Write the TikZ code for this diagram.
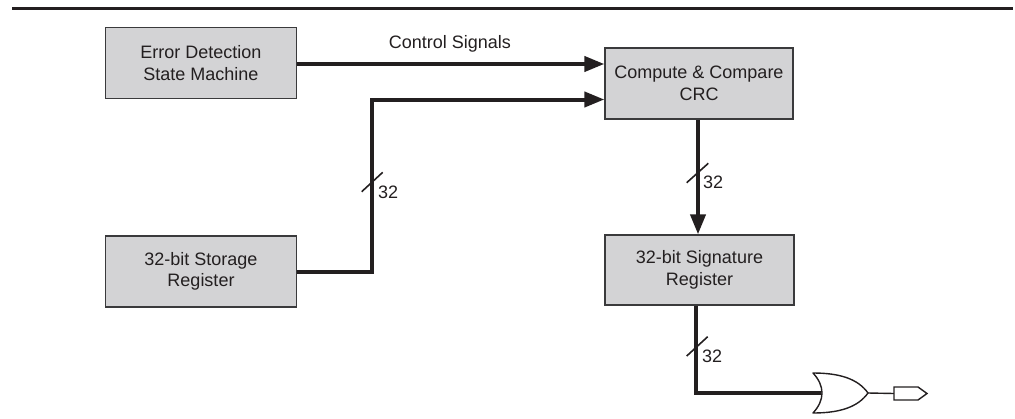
\documentclass[tikz,border=0pt]{standalone}
\usepackage{fontspec}
\setmainfont{Liberation Sans}
\usetikzlibrary{arrows.meta}
\definecolor{ink}{HTML}{231F20}
\definecolor{boxfill}{HTML}{D3D3D5}
\definecolor{boxline}{HTML}{3A3A3C}
\tikzset{
  blockbox/.style={draw=boxline, line width=1.3pt, fill=boxfill, minimum height=71pt,
    align=center, inner sep=0pt, text=ink, font=\fontsize{18}{21.6}\selectfont},
  bus/.style={draw=ink, line width=4pt},
  busarrow/.style={bus, -{Triangle[length=20pt,width=15pt]}},
  slashmark/.style={draw=ink, line width=1.6pt},
  buslabel/.style={text=ink, font=\fontsize{18}{21.6}\selectfont, inner sep=0pt, anchor=base west},
  thin/.style={draw=ink, line width=1.4pt}
}
\begin{document}
\begin{tikzpicture}[x=1pt,y=-1pt]
\useasboundingbox (0,0) rectangle (1015,418);
% top rule
\draw[ink, line width=2.6pt] (12,8.5) -- (1013,8.5);

% blocks
\node[blockbox, minimum width=191pt] (ed) at (201,63) {Error Detection\\State Machine};
\node[blockbox, minimum width=191pt] (st) at (201,271.5) {32-bit Storage\\Register};
\node[blockbox, minimum width=188pt] (cc) at (699,83.5) {Compute \& Compare\\CRC};
\node[blockbox, minimum width=189pt, minimum height=70pt] (sg) at (699.5,270) {32-bit Signature\\Register};

% control signals
\draw[busarrow] (ed.east |- 0,64) -- (cc.west |- 0,64);
\node[text=ink, font=\fontsize{18}{21.6}\selectfont, inner sep=0pt, anchor=base] (cs) at (450,48) {Control Signals};

% storage to compute
\coordinate (bend) at (372,99.5);
\draw[bus, line join=miter] (st.east) -| (bend);
\draw[busarrow, shorten <=-2pt] (bend) -- (bend -| cc.west);
\draw[slashmark] (361.7,191.7) -- (382.7,172.3);
\node[buslabel] (l1) at (378,198) {32};

% compute to signature
\draw[busarrow] (cc.south -| 698,0) -- (sg.north -| 698,0);
\draw[slashmark] (686.7,182.7) -- (708.3,163.3);
\node[buslabel] (l2) at (703,188) {32};

% OR gate
\coordinate (gin) at (821,393);
\coordinate (gout) at (868,393);
\draw[thin, fill=white, line join=round]
  (813,373) .. controls (840,373) and (858,379) .. (gout)
  .. controls (858,407) and (840,413) .. (813,413)
  .. controls (825,400) and (825,386) .. cycle;

% signature to gate
\draw[bus, line join=miter] (sg.south -| 696,0) |- (gin);
\draw[slashmark] (686.7,356) -- (707.7,336.7);
\node[buslabel] (l3) at (702,362.7) {32};

% output
\coordinate (flag) at (894,393.5);
\draw[thin] (gout) -- (flag);
\draw[thin, fill=white, line join=miter] (flag) -- (894,387) -- (918,387) -- (927,393.5) -- (918,400) -- (894,400) -- cycle;
\end{tikzpicture}
\end{document}
